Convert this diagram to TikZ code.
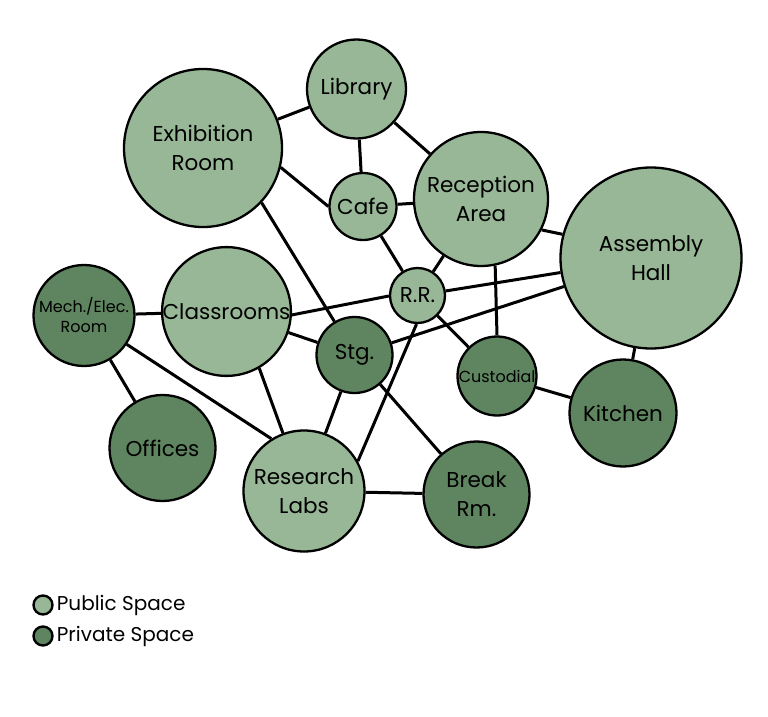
\documentclass[tikz,border=0pt]{standalone}
\usepackage{fontspec}
\setmainfont{Poppins}
\usetikzlibrary{positioning}
\definecolor{publicgreen}{RGB}{151,183,150}
\definecolor{privategreen}{RGB}{94,133,95}

\begin{document}
\begin{tikzpicture}[x=1pt, y=-1pt,
    room/.style={circle, draw=black, line width=2.3pt, inner sep=0pt, align=center,
        font=\fontsize{21.5}{29}\selectfont},
    public/.style={room, fill=publicgreen},
    private/.style={room, fill=privategreen},
    small/.style={font=\fontsize{16}{20}\selectfont},
    link/.style={line width=3pt},
    key/.style={font=\fontsize{20}{24}\selectfont, inner sep=0pt}]

    \useasboundingbox (0,0) rectangle (768,717);

    % ================= Public rooms =================
    \node[public, minimum size=99pt] (library) at (356.5,89) {Library};
    \node[public, minimum size=158pt] (exhibition) at (203,148) {Exhibition\\Room};
    \node[public, minimum size=67pt] (cafe) at (363,206.5) {Cafe};
    \node[public, minimum size=134pt] (reception) at (481,199) {Reception\\Area};
    \node[public, minimum size=181pt] (assembly) at (651,258) {Assembly\\Hall};
    \node[public, minimum size=55pt] (rr) at (417.5,295.5) {R.R.};
    \node[public, minimum size=126pt] (classrooms) at (226.5,311.5) {Classrooms};
    \node[public, minimum size=121pt] (labs) at (304,491) {Research\\Labs};

    % ================= Private rooms =================
    \node[private, small, minimum size=101pt] (mech) at (84,315.5) {Mech./Elec.\\Room};
    \node[private, minimum size=76pt] (stg) at (354.5,355) {Stg.};
    \node[private, small, minimum size=79pt] (custodial) at (497,376) {Custodial};
    \node[private, minimum size=107pt] (kitchen) at (623,413) {Kitchen};
    \node[private, minimum size=106pt] (offices) at (162.5,448) {Offices};
    \node[private, minimum size=106pt] (breakrm) at (476.5,494.5) {Break\\Rm.};

    % ================= Adjacencies =================
    \draw[link] (exhibition) -- (library);
    \draw[link] (library) -- (cafe);
    \draw[link] (library) -- (reception);
    \draw[link] (exhibition.-14) -- (cafe.180);
    \draw[link] (exhibition.-43) -- (stg.121);
    \draw[link] (cafe) -- (reception);
    \draw[link] (cafe) -- (rr);
    \draw[link] (reception) -- (rr);
    \draw[link] (reception.-27) -- (assembly.165);
    \draw[link] (reception.-78) -- (custodial.90);
    \draw[link] (classrooms.-3) -- (rr.181);
    \draw[link] (rr) -- (assembly);
    \draw[link] (stg) -- (assembly);
    \draw[link] (assembly) -- (kitchen);
    \draw[link] (rr) -- (custodial);
    \draw[link] (custodial) -- (kitchen);
    \draw[link] (mech) -- (classrooms);
    \draw[link] (mech) -- (offices);
    \draw[link] (mech.-34) -- (labs.122);
    \draw[link] (classrooms) -- (stg);
    \draw[link] (classrooms.-60) -- (labs.110);
    \draw[link] (stg) -- (labs);
    \draw[link] (stg) -- (breakrm);
    \draw[link] (rr.-92) -- (labs.29);
    \draw[link] (labs) -- (breakrm);

    % ================= Legend =================
    \node[public, minimum size=19pt, line width=2.4pt] (publickey) at (43,605) {};
    \node[key, right=3pt of publickey] (publiclabel) {Public Space};
    \node[private, minimum size=19pt, line width=2.4pt] (privatekey) at (43,636) {};
    \node[key, right=3pt of privatekey] (privatelabel) {Private Space};

\end{tikzpicture}
\end{document}
